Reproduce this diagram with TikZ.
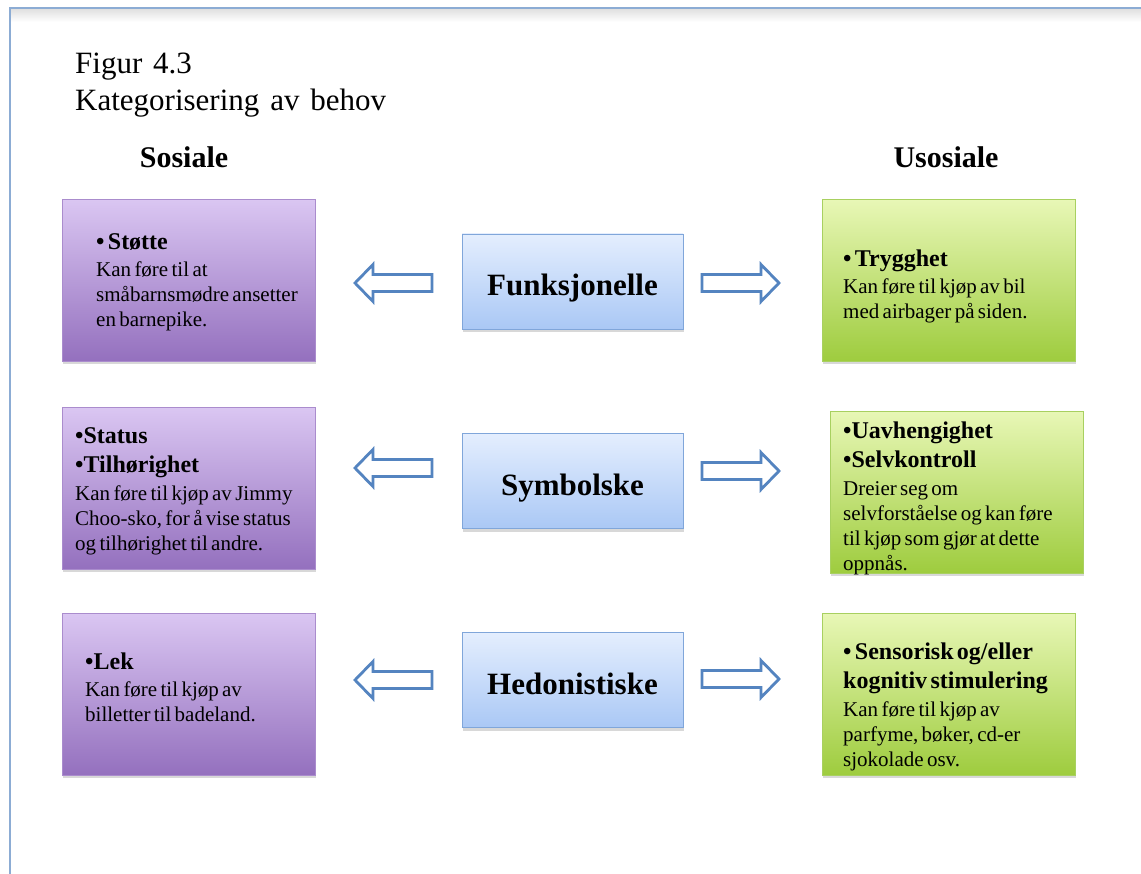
\documentclass[tikz,border=0pt]{standalone}
\usepackage{fontspec}
\setmainfont[WordSpace=1.4]{Liberation Serif}
\usetikzlibrary{shadows}
\definecolor{framec}{RGB}{140,172,212}
\definecolor{purtop}{RGB}{218,198,242}
\definecolor{purbot}{RGB}{148,112,190}
\definecolor{purdraw}{RGB}{170,140,205}
\definecolor{grntop}{RGB}{232,247,182}
\definecolor{grnbot}{RGB}{158,204,62}
\definecolor{grndraw}{RGB}{168,208,96}
\definecolor{blutop}{RGB}{228,238,254}
\definecolor{blubot}{RGB}{170,200,245}
\definecolor{bludraw}{RGB}{128,166,218}
\definecolor{arrowc}{RGB}{84,132,192}
\newcommand\hdfont{\fontsize{24}{29}\selectfont\bfseries}
\newcommand\bdfont{\fontsize{21}{25}\selectfont\mdseries}
\begin{document}
\begin{tikzpicture}[x=1pt,y=-1pt,
  boxbase/.style={rectangle, line width=0.8pt, minimum width=253pt, minimum height=162pt, anchor=north west,
    drop shadow={shadow xshift=1pt, shadow yshift=-3pt, opacity=0.25, fill=black!60}},
  purplebox/.style={boxbase, draw=purdraw, top color=purtop, bottom color=purbot},
  greenbox/.style={boxbase, draw=grndraw, top color=grntop, bottom color=grnbot},
  bluebox/.style={rectangle, line width=0.8pt, draw=bludraw, top color=blutop, bottom color=blubot,
    minimum width=221pt, minimum height=95pt, text height=29pt, text depth=0pt,
    font=\fontsize{31}{36}\selectfont\bfseries,
    drop shadow={shadow xshift=1pt, shadow yshift=-3pt, opacity=0.25, fill=black!60}},
  boxtext/.style={inner sep=0pt, anchor=north west, text width=235pt, align=left},
  arrowline/.style={draw=arrowc, line width=2.8pt, fill=white, line join=miter},
  blockarrow/.pic={\path[arrowline] (0,0) -- (18,-18.5) -- (18,-8.5) -- (77,-8.5) -- (77,8.5) -- (18,8.5) -- (18,18.5) -- cycle;},
  titletext/.style={inner sep=0pt, anchor=base west, font=\fontsize{31}{37}\selectfont},
  coltext/.style={inner sep=0pt, anchor=base, font=\fontsize{30}{36}\selectfont\bfseries}
]
\useasboundingbox (0,0) rectangle (1141,874);
\fill[white] (0,0) rectangle (1141,874);
% page frame
\shade[top color=black!12, bottom color=white] (10,9) rectangle (1141,22);
\draw[framec, line width=2pt] (10,874) -- (10,8) -- (1141,8);

% titles
\node[titletext] (fig) at (75,74) {Figur 4.3};
\node[titletext] (cat) at (75,111) {Kategorisering av behov};
\node[coltext] (sos) at (184,168) {Sosiale};
\node[coltext] (usos) at (946,168) {Usosiale};

% purple boxes
\node[purplebox] (p1) at (62,199) {};
\node[purplebox] (p2) at (62,407) {};
\node[purplebox] (p3) at (62,613) {};
% green boxes
\node[greenbox] (g1) at (822,199) {};
\node[greenbox] (g2) at (830,411) {};
\node[greenbox] (g3) at (822,613) {};
% blue boxes
\node[bluebox] (b1) at (572.5,281.5) {Funksjonelle};
\node[bluebox] (b2) at (572.5,481) {Symbolske};
\node[bluebox] (b3) at (572.5,680) {Hedonistiske};

% box texts
\node[boxtext] (p1t) at (96,233) {\hdfont • Støtte\par\vspace{2pt}\bdfont Kan føre til at\\ småbarnsmødre ansetter\\ en barnepike.\par};
\node[boxtext] (p2t) at (75,427) {\hdfont •Status\\ •Tilhørighet\par\vspace{3pt}\bdfont Kan føre til kjøp av Jimmy\\ Choo-sko, for å vise status\\ og tilhørighet til andre.\par};
\node[boxtext] (p3t) at (85,653) {\hdfont •Lek\par\vspace{2pt}\bdfont Kan føre til kjøp av\\ billetter til badeland.\par};
\node[boxtext] (g1t) at (843,250) {\hdfont • Trygghet\par\vspace{2pt}\bdfont Kan føre til kjøp av bil\\ med airbager på siden.\par};
\node[boxtext] (g2t) at (843,422) {\hdfont •Uavhengighet\\ •Selvkontroll\par\vspace{3pt}\bdfont Dreier seg om\\ selvforståelse og kan føre\\ til kjøp som gjør at dette\\ oppnås.\par};
\node[boxtext] (g3t) at (843,643) {\hdfont • Sensorisk og/eller\\ kognitiv stimulering\par\vspace{3pt}\bdfont Kan føre til kjøp av\\ parfyme, bøker, cd-er\\ sjokolade osv.\par};

% block arrows
\pic at (355,283) {blockarrow};
\pic at (355,468) {blockarrow};
\pic at (355,680) {blockarrow};
\pic[xscale=-1] at (779,283) {blockarrow};
\pic[xscale=-1] at (779,471) {blockarrow};
\pic[xscale=-1] at (779,679) {blockarrow};
\end{tikzpicture}
\end{document}
